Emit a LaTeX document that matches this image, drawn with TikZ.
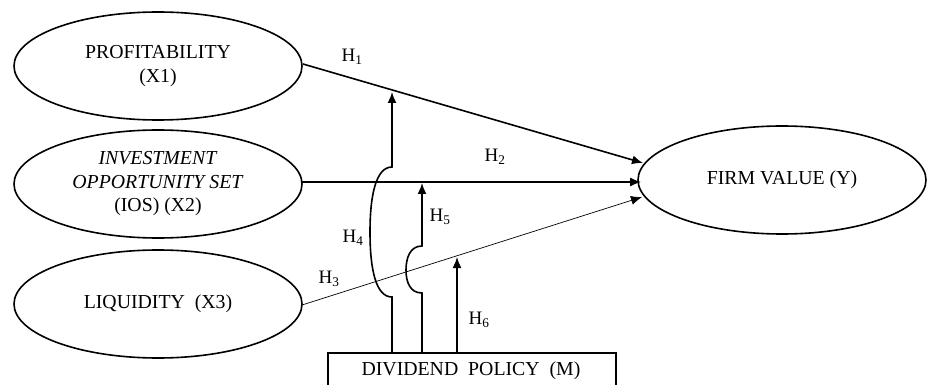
\documentclass[tikz,border=0pt]{standalone}
\usepackage{fontspec}
\setmainfont{Liberation Serif}
\usetikzlibrary{shapes.geometric,arrows.meta}
\begin{document}
\begin{tikzpicture}[x=1pt,y=-1pt,
  latent/.style={draw,line width=1.6pt,ellipse,minimum width=288pt,minimum height=108pt,inner sep=0pt,align=center,font=\fontsize{19.8}{23.5}\selectfont},
  conn/.style={line width=1.6pt,-{Latex[length=11pt,width=9pt]}},
  thinconn/.style={line width=0.7pt,-{Latex[length=11pt,width=9pt]}},
  hlab/.style={font=\fontsize{19}{20}\selectfont,inner sep=0pt}]
\useasboundingbox (0,0) rectangle (927,385);
\node[latent] (p) at (158,66) {PROFITABILITY\\(X1)};
\node[latent] (i) at (158,184) {\textit{INVESTMENT}\\\textit{OPPORTUNITY SET}\\(IOS) (X2)};
\node[latent] (l) at (158,304) {LIQUIDITY\ \ (X3)};
\node[latent] (f) at (782,180) {FIRM VALUE (Y)};
\node[draw,line width=1.6pt,minimum width=288pt,minimum height=60pt,anchor=north west,inner sep=0pt] (m) at (327,352) {};
\node[font=\fontsize{19.8}{23}\selectfont] (mt) at (471,371) {DIVIDEND\ \ POLICY\ \ (M)};
% end points
\coordinate (p1) at (303,64);
\coordinate (f1) at (643,163);
\coordinate (i1) at (302,182);
\coordinate (f2) at (641,182);
\coordinate (l1) at (302,305);
\coordinate (f3) at (642,197);
\coordinate (m4) at (392,352);
\coordinate (t4) at (392,92);
\coordinate (m5) at (422,352);
\coordinate (t5) at (422,183);
\coordinate (m6) at (457,352);
\coordinate (t6) at (457,257);
\draw[conn] (p1) -- (f1);
\draw[conn,line width=1.3pt] (i1) -- (f2);
\draw[thinconn] (l1) -- (f3);
\draw[conn] (m4) -- (392,297) .. controls (376,297) and (370,270) .. (370,232) .. controls (370,195) and (376,167) .. (392,167) -- (t4);
\draw[conn] (m5) -- (422,293) .. controls (410,293) and (406,282) .. (406,270) .. controls (406,258) and (410,246) .. (422,246) -- (t5);
\draw[conn] (m6) -- (t6);
\node[hlab] (h1) at (352,57) {H\textsubscript{1}};
\node[hlab] (h2) at (495,157) {H\textsubscript{2}};
\node[hlab] (h3) at (329,279) {H\textsubscript{3}};
\node[hlab] (h4) at (353,238) {H\textsubscript{4}};
\node[hlab] (h5) at (440,217) {H\textsubscript{5}};
\node[hlab] (h6) at (479,320) {H\textsubscript{6}};
\end{tikzpicture}
\end{document}
